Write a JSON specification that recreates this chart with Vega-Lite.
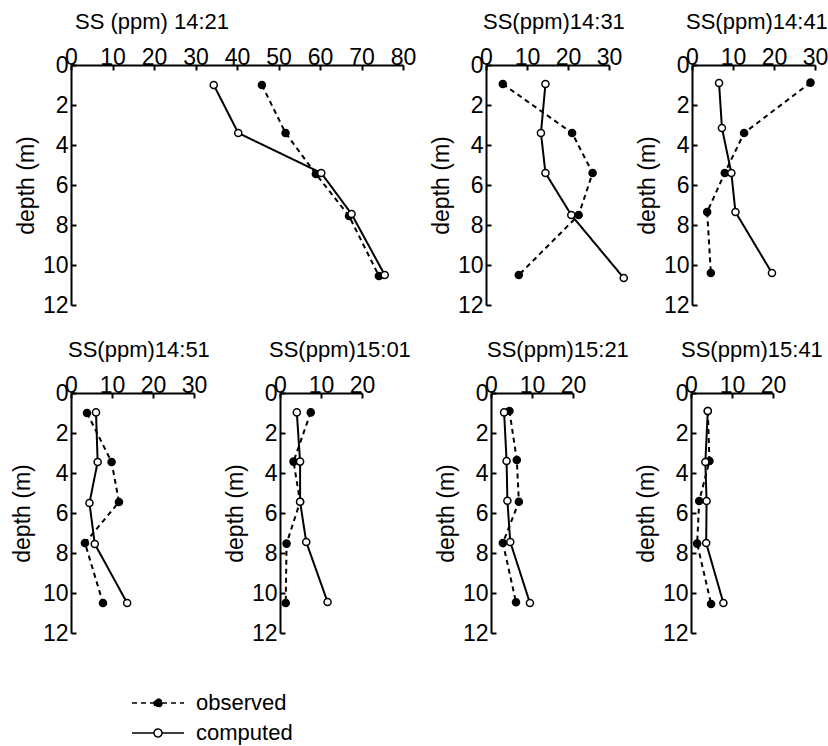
{
  "$schema": "https://vega.github.io/schema/vega-lite/v6.json",
  "background": "white",
  "padding": {"left": 11, "top": 11, "right": 0, "bottom": 5},
  "spacing": 22,
  "data": {"values": [
    {"panel": "14:21", "type": "observed", "depth": 1.0, "ss": 46.0},
    {"panel": "14:21", "type": "observed", "depth": 3.4, "ss": 51.7},
    {"panel": "14:21", "type": "observed", "depth": 5.45, "ss": 59.0},
    {"panel": "14:21", "type": "observed", "depth": 7.55, "ss": 67.0},
    {"panel": "14:21", "type": "observed", "depth": 10.55, "ss": 74.2},
    {"panel": "14:21", "type": "computed", "depth": 1.0, "ss": 34.4},
    {"panel": "14:21", "type": "computed", "depth": 3.4, "ss": 40.3},
    {"panel": "14:21", "type": "computed", "depth": 5.4, "ss": 60.3},
    {"panel": "14:21", "type": "computed", "depth": 7.45, "ss": 67.6},
    {"panel": "14:21", "type": "computed", "depth": 10.5, "ss": 75.6},
    {"panel": "14:31", "type": "observed", "depth": 0.95, "ss": 4.1},
    {"panel": "14:31", "type": "observed", "depth": 3.4, "ss": 21.0},
    {"panel": "14:31", "type": "observed", "depth": 5.4, "ss": 26.0},
    {"panel": "14:31", "type": "observed", "depth": 7.5, "ss": 22.6},
    {"panel": "14:31", "type": "observed", "depth": 10.5, "ss": 8.0},
    {"panel": "14:31", "type": "computed", "depth": 0.95, "ss": 14.5},
    {"panel": "14:31", "type": "computed", "depth": 3.4, "ss": 13.4},
    {"panel": "14:31", "type": "computed", "depth": 5.4, "ss": 14.5},
    {"panel": "14:31", "type": "computed", "depth": 7.5, "ss": 20.8},
    {"panel": "14:31", "type": "computed", "depth": 10.65, "ss": 33.6},
    {"panel": "14:41", "type": "observed", "depth": 0.88, "ss": 28.9},
    {"panel": "14:41", "type": "observed", "depth": 3.4, "ss": 12.7},
    {"panel": "14:41", "type": "observed", "depth": 5.4, "ss": 8.0},
    {"panel": "14:41", "type": "observed", "depth": 7.35, "ss": 3.7},
    {"panel": "14:41", "type": "observed", "depth": 10.4, "ss": 4.6},
    {"panel": "14:41", "type": "computed", "depth": 0.9, "ss": 6.6},
    {"panel": "14:41", "type": "computed", "depth": 3.15, "ss": 7.3},
    {"panel": "14:41", "type": "computed", "depth": 5.4, "ss": 9.6},
    {"panel": "14:41", "type": "computed", "depth": 7.35, "ss": 10.6},
    {"panel": "14:41", "type": "computed", "depth": 10.4, "ss": 19.5},
    {"panel": "14:51", "type": "observed", "depth": 1.0, "ss": 3.9},
    {"panel": "14:51", "type": "observed", "depth": 3.45, "ss": 9.9},
    {"panel": "14:51", "type": "observed", "depth": 5.45, "ss": 11.7},
    {"panel": "14:51", "type": "observed", "depth": 7.5, "ss": 3.4},
    {"panel": "14:51", "type": "observed", "depth": 10.5, "ss": 7.8},
    {"panel": "14:51", "type": "computed", "depth": 0.97, "ss": 6.1},
    {"panel": "14:51", "type": "computed", "depth": 3.45, "ss": 6.5},
    {"panel": "14:51", "type": "computed", "depth": 5.5, "ss": 4.5},
    {"panel": "14:51", "type": "computed", "depth": 7.55, "ss": 5.8},
    {"panel": "14:51", "type": "computed", "depth": 10.5, "ss": 13.7},
    {"panel": "15:01", "type": "observed", "depth": 0.97, "ss": 7.5},
    {"panel": "15:01", "type": "observed", "depth": 3.43, "ss": 3.3},
    {"panel": "15:01", "type": "observed", "depth": 5.44, "ss": 4.9},
    {"panel": "15:01", "type": "observed", "depth": 7.53, "ss": 1.6},
    {"panel": "15:01", "type": "observed", "depth": 10.5, "ss": 1.4},
    {"panel": "15:01", "type": "computed", "depth": 0.97, "ss": 4.1},
    {"panel": "15:01", "type": "computed", "depth": 3.43, "ss": 4.9},
    {"panel": "15:01", "type": "computed", "depth": 5.44, "ss": 4.9},
    {"panel": "15:01", "type": "computed", "depth": 7.45, "ss": 6.4},
    {"panel": "15:01", "type": "computed", "depth": 10.45, "ss": 11.6},
    {"panel": "15:21", "type": "observed", "depth": 0.9, "ss": 4.5},
    {"panel": "15:21", "type": "observed", "depth": 3.35, "ss": 6.3},
    {"panel": "15:21", "type": "observed", "depth": 5.44, "ss": 6.8},
    {"panel": "15:21", "type": "observed", "depth": 7.5, "ss": 2.9},
    {"panel": "15:21", "type": "observed", "depth": 10.46, "ss": 6.1},
    {"panel": "15:21", "type": "computed", "depth": 0.97, "ss": 3.2},
    {"panel": "15:21", "type": "computed", "depth": 3.4, "ss": 3.8},
    {"panel": "15:21", "type": "computed", "depth": 5.39, "ss": 4.0},
    {"panel": "15:21", "type": "computed", "depth": 7.45, "ss": 4.7},
    {"panel": "15:21", "type": "computed", "depth": 10.5, "ss": 9.5},
    {"panel": "15:41", "type": "observed", "depth": 0.9, "ss": 4.1},
    {"panel": "15:41", "type": "observed", "depth": 3.4, "ss": 4.5},
    {"panel": "15:41", "type": "observed", "depth": 5.4, "ss": 2.0},
    {"panel": "15:41", "type": "observed", "depth": 7.53, "ss": 1.5},
    {"panel": "15:41", "type": "observed", "depth": 10.55, "ss": 4.9},
    {"panel": "15:41", "type": "computed", "depth": 0.9, "ss": 4.1},
    {"panel": "15:41", "type": "computed", "depth": 3.45, "ss": 3.5},
    {"panel": "15:41", "type": "computed", "depth": 5.4, "ss": 3.8},
    {"panel": "15:41", "type": "computed", "depth": 7.5, "ss": 3.7},
    {"panel": "15:41", "type": "computed", "depth": 10.5, "ss": 7.9}
  ]},
  "vconcat": [
    {
      "bounds": "flush",
      "spacing": 83,
      "hconcat": [
        {
          "width": 332, "height": 240,
          "title": {"text": "SS (ppm)  14:21", "dx": 4},
          "transform": [{"filter": "datum.panel === '14:21'"}],
          "encoding": {
            "x": {"field": "ss", "type": "quantitative", "scale": {"domain": [0, 80], "nice": false, "zero": false}, "axis": {"orient": "top", "values": [0, 10, 20, 30, 40, 50, 60, 70, 80], "title": null}},
            "y": {"field": "depth", "type": "quantitative", "scale": {"domain": [0, 12], "reverse": true, "nice": false, "zero": false}, "axis": {"values": [0, 2, 4, 6, 8, 10, 12], "title": "depth (m)"}}
          },
          "layer": [
            {"mark": {"type": "line", "color": "black", "strokeWidth": 2}, "encoding": {"strokeDash": {"field": "type", "type": "nominal", "scale": {"domain": ["observed", "computed"], "range": [[5, 4], [1, 0]]}, "legend": {"symbolType": "M-6.5,0H-1M1,0H6.5M1,0A1,1,0,1,1,-1,0A1,1,0,1,1,1,0Z"}}, "order": {"field": "depth", "type": "quantitative"}}},
            {"mark": {"type": "point", "shape": "circle", "filled": true, "stroke": "black", "strokeWidth": 1.5, "size": 50, "opacity": 1}, "encoding": {"fill": {"field": "type", "type": "nominal", "scale": {"domain": ["observed", "computed"], "range": ["black", "white"]}, "legend": {"symbolType": "M-6.5,0H-1M1,0H6.5M1,0A1,1,0,1,1,-1,0A1,1,0,1,1,1,0Z"}}}}
          ]
        },
        {
          "width": 123, "height": 240,
          "title": {"text": "SS(ppm)14:31", "dx": -3},
          "transform": [{"filter": "datum.panel === '14:31'"}],
          "encoding": {
            "x": {"field": "ss", "type": "quantitative", "scale": {"domain": [0, 30], "nice": false, "zero": false}, "axis": {"orient": "top", "values": [0, 10, 20, 30], "title": null}},
            "y": {"field": "depth", "type": "quantitative", "scale": {"domain": [0, 12], "reverse": true, "nice": false, "zero": false}, "axis": {"values": [0, 2, 4, 6, 8, 10, 12], "title": "depth (m)"}}
          },
          "layer": [
            {"mark": {"type": "line", "color": "black", "strokeWidth": 2}, "encoding": {"strokeDash": {"field": "type", "type": "nominal", "scale": {"domain": ["observed", "computed"], "range": [[5, 4], [1, 0]]}, "legend": {"symbolType": "M-6.5,0H-1M1,0H6.5M1,0A1,1,0,1,1,-1,0A1,1,0,1,1,1,0Z"}}, "order": {"field": "depth", "type": "quantitative"}}},
            {"mark": {"type": "point", "shape": "circle", "filled": true, "stroke": "black", "strokeWidth": 1.5, "size": 50, "opacity": 1}, "encoding": {"fill": {"field": "type", "type": "nominal", "scale": {"domain": ["observed", "computed"], "range": ["black", "white"]}, "legend": {"symbolType": "M-6.5,0H-1M1,0H6.5M1,0A1,1,0,1,1,-1,0A1,1,0,1,1,1,0Z"}}}}
          ]
        },
        {
          "width": 123, "height": 240,
          "title": {"text": "SS(ppm)14:41", "dx": -6},
          "transform": [{"filter": "datum.panel === '14:41'"}],
          "encoding": {
            "x": {"field": "ss", "type": "quantitative", "scale": {"domain": [0, 30], "nice": false, "zero": false}, "axis": {"orient": "top", "values": [0, 10, 20, 30], "title": null}},
            "y": {"field": "depth", "type": "quantitative", "scale": {"domain": [0, 12], "reverse": true, "nice": false, "zero": false}, "axis": {"values": [0, 2, 4, 6, 8, 10, 12], "title": "depth (m)"}}
          },
          "layer": [
            {"mark": {"type": "line", "color": "black", "strokeWidth": 2}, "encoding": {"strokeDash": {"field": "type", "type": "nominal", "scale": {"domain": ["observed", "computed"], "range": [[5, 4], [1, 0]]}, "legend": {"symbolType": "M-6.5,0H-1M1,0H6.5M1,0A1,1,0,1,1,-1,0A1,1,0,1,1,1,0Z"}}, "order": {"field": "depth", "type": "quantitative"}}},
            {"mark": {"type": "point", "shape": "circle", "filled": true, "stroke": "black", "strokeWidth": 1.5, "size": 50, "opacity": 1}, "encoding": {"fill": {"field": "type", "type": "nominal", "scale": {"domain": ["observed", "computed"], "range": ["black", "white"]}, "legend": {"symbolType": "M-6.5,0H-1M1,0H6.5M1,0A1,1,0,1,1,-1,0A1,1,0,1,1,1,0Z"}}}}
          ]
        }
      ]
    },
    {
      "bounds": "flush",
      "spacing": 86,
      "hconcat": [
        {
          "width": 123, "height": 240,
          "title": {"text": "SS(ppm)14:51", "dx": -3},
          "transform": [{"filter": "datum.panel === '14:51'"}],
          "encoding": {
            "x": {"field": "ss", "type": "quantitative", "scale": {"domain": [0, 30], "nice": false, "zero": false}, "axis": {"orient": "top", "values": [0, 10, 20, 30], "title": null}},
            "y": {"field": "depth", "type": "quantitative", "scale": {"domain": [0, 12], "reverse": true, "nice": false, "zero": false}, "axis": {"values": [0, 2, 4, 6, 8, 10, 12], "title": "depth (m)", "titlePadding": 8}}
          },
          "layer": [
            {"mark": {"type": "line", "color": "black", "strokeWidth": 2}, "encoding": {"strokeDash": {"field": "type", "type": "nominal", "scale": {"domain": ["observed", "computed"], "range": [[5, 4], [1, 0]]}, "legend": {"symbolType": "M-6.5,0H-1M1,0H6.5M1,0A1,1,0,1,1,-1,0A1,1,0,1,1,1,0Z"}}, "order": {"field": "depth", "type": "quantitative"}}},
            {"mark": {"type": "point", "shape": "circle", "filled": true, "stroke": "black", "strokeWidth": 1.5, "size": 50, "opacity": 1}, "encoding": {"fill": {"field": "type", "type": "nominal", "scale": {"domain": ["observed", "computed"], "range": ["black", "white"]}, "legend": {"symbolType": "M-6.5,0H-1M1,0H6.5M1,0A1,1,0,1,1,-1,0A1,1,0,1,1,1,0Z"}}}}
          ]
        },
        {
          "width": 125, "height": 240,
          "title": {"text": "SS(ppm)15:01", "dx": -11},
          "transform": [{"filter": "datum.panel === '15:01'"}],
          "encoding": {
            "x": {"field": "ss", "type": "quantitative", "scale": {"domain": [0, 20], "range": [0, 82], "nice": false, "zero": false}, "axis": {"orient": "top", "values": [0, 10, 20], "title": null}},
            "y": {"field": "depth", "type": "quantitative", "scale": {"domain": [0, 12], "reverse": true, "nice": false, "zero": false}, "axis": {"values": [0, 2, 4, 6, 8, 10, 12], "title": "depth (m)"}}
          },
          "layer": [
            {"mark": {"type": "line", "color": "black", "strokeWidth": 2}, "encoding": {"strokeDash": {"field": "type", "type": "nominal", "scale": {"domain": ["observed", "computed"], "range": [[5, 4], [1, 0]]}, "legend": {"symbolType": "M-6.5,0H-1M1,0H6.5M1,0A1,1,0,1,1,-1,0A1,1,0,1,1,1,0Z"}}, "order": {"field": "depth", "type": "quantitative"}}},
            {"mark": {"type": "point", "shape": "circle", "filled": true, "stroke": "black", "strokeWidth": 1.5, "size": 50, "opacity": 1}, "encoding": {"fill": {"field": "type", "type": "nominal", "scale": {"domain": ["observed", "computed"], "range": ["black", "white"]}, "legend": {"symbolType": "M-6.5,0H-1M1,0H6.5M1,0A1,1,0,1,1,-1,0A1,1,0,1,1,1,0Z"}}}}
          ]
        },
        {
          "width": 114, "height": 240,
          "title": {"text": "SS(ppm)15:21", "dx": -4},
          "transform": [{"filter": "datum.panel === '15:21'"}],
          "encoding": {
            "x": {"field": "ss", "type": "quantitative", "scale": {"domain": [0, 20], "range": [0, 82], "nice": false, "zero": false}, "axis": {"orient": "top", "values": [0, 10, 20], "title": null}},
            "y": {"field": "depth", "type": "quantitative", "scale": {"domain": [0, 12], "reverse": true, "nice": false, "zero": false}, "axis": {"values": [0, 2, 4, 6, 8, 10, 12], "title": "depth (m)"}}
          },
          "layer": [
            {"mark": {"type": "line", "color": "black", "strokeWidth": 2}, "encoding": {"strokeDash": {"field": "type", "type": "nominal", "scale": {"domain": ["observed", "computed"], "range": [[5, 4], [1, 0]]}, "legend": {"symbolType": "M-6.5,0H-1M1,0H6.5M1,0A1,1,0,1,1,-1,0A1,1,0,1,1,1,0Z"}}, "order": {"field": "depth", "type": "quantitative"}}},
            {"mark": {"type": "point", "shape": "circle", "filled": true, "stroke": "black", "strokeWidth": 1.5, "size": 50, "opacity": 1}, "encoding": {"fill": {"field": "type", "type": "nominal", "scale": {"domain": ["observed", "computed"], "range": ["black", "white"]}, "legend": {"symbolType": "M-6.5,0H-1M1,0H6.5M1,0A1,1,0,1,1,-1,0A1,1,0,1,1,1,0Z"}}}}
          ]
        },
        {
          "width": 82, "height": 240,
          "title": {"text": "SS(ppm)15:41", "dx": -10},
          "transform": [{"filter": "datum.panel === '15:41'"}],
          "encoding": {
            "x": {"field": "ss", "type": "quantitative", "scale": {"domain": [0, 20], "nice": false, "zero": false}, "axis": {"orient": "top", "values": [0, 10, 20], "title": null}},
            "y": {"field": "depth", "type": "quantitative", "scale": {"domain": [0, 12], "reverse": true, "nice": false, "zero": false}, "axis": {"values": [0, 2, 4, 6, 8, 10, 12], "title": "depth (m)"}}
          },
          "layer": [
            {"mark": {"type": "line", "color": "black", "strokeWidth": 2}, "encoding": {"strokeDash": {"field": "type", "type": "nominal", "scale": {"domain": ["observed", "computed"], "range": [[5, 4], [1, 0]]}, "legend": {"symbolType": "M-6.5,0H-1M1,0H6.5M1,0A1,1,0,1,1,-1,0A1,1,0,1,1,1,0Z"}}, "order": {"field": "depth", "type": "quantitative"}}},
            {"mark": {"type": "point", "shape": "circle", "filled": true, "stroke": "black", "strokeWidth": 1.5, "size": 50, "opacity": 1}, "encoding": {"fill": {"field": "type", "type": "nominal", "scale": {"domain": ["observed", "computed"], "range": ["black", "white"]}, "legend": {"symbolType": "M-6.5,0H-1M1,0H6.5M1,0A1,1,0,1,1,-1,0A1,1,0,1,1,1,0Z"}}}}
          ]
        }
      ]
    }
  ],
  "config": {
    "font": "Liberation Sans",
    "view": {"stroke": null},
    "axis": {
      "domainColor": "black", "domainWidth": 2, "tickColor": "black", "tickWidth": 2, "tickSize": -5,
      "labelFontSize": 23, "labelColor": "black", "labelFlush": false, "labelOverlap": false, "labelPadding": 8,
      "titleFontSize": 23, "titleColor": "black", "titleFontWeight": "normal", "titlePadding": 4, "grid": false
    },
    "axisX": {"labelPadding": 1},
    "title": {"fontSize": 22, "fontWeight": "normal", "anchor": "start", "frame": "group", "color": "black", "offset": 12},
    "legend": {
      "orient": "none", "legendX": 76, "legendY": 627, "title": null, "direction": "vertical",
      "labelFontSize": 22, "labelColor": "black", "labelOffset": 27, "symbolSize": 64,
      "symbolStrokeColor": "black", "symbolStrokeWidth": 1.5, "rowPadding": 8
    }
  }
}
